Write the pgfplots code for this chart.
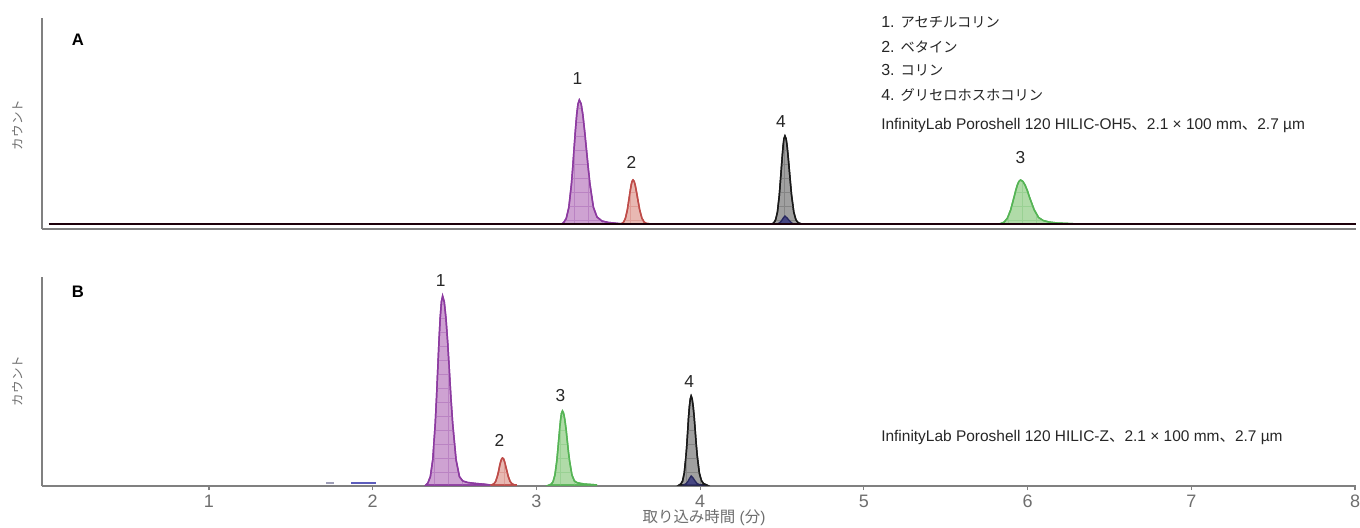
\documentclass[border=0pt]{standalone}
\usepackage{fontspec}
\setmainfont{Liberation Sans}
\newfontfamily\cjk{Noto Sans CJK JP}
\usepackage{pgfplots}
\pgfplotsset{compat=1.18}
\usetikzlibrary{patterns.meta}
\definecolor{purL}{RGB}{140,58,160}
\definecolor{purF}{RGB}{206,162,210}
\definecolor{redL}{RGB}{190,75,72}
\definecolor{redF}{RGB}{232,184,178}
\definecolor{blkL}{RGB}{25,25,25}
\definecolor{blkF}{RGB}{160,160,160}
\definecolor{grnL}{RGB}{85,180,85}
\definecolor{grnF}{RGB}{176,219,168}
\definecolor{navL}{RGB}{40,40,95}
\definecolor{navF}{RGB}{70,70,130}
\definecolor{axgray}{RGB}{128,128,128}
\definecolor{txtgray}{RGB}{110,110,110}
\newcommand\fs[1]{\fontsize{#1}{#1}\selectfont}
\tikzset{plab/.style={font=\fs{13bp}, text=black!85}}
\pgfplotsset{
  peak/.style n args={3}{draw=#1, fill=#2, line width=1.1bp,
    postaction={pattern={Hatch[angle=0,distance=10.5bp,line width=0.35bp]}, pattern color=#3}},
  common/.style={scale only axis, width=985.5bp, xmin=-0.02, xmax=8.006,
    axis x line*=bottom, axis y line*=left, ytick=\empty, clip=false,
    axis line style={draw=axgray, line width=1.1bp}}
}
\begin{document}
\begin{tikzpicture}
\useasboundingbox (0,0) rectangle (1020bp,396bp);
% ---------------- Panel A ----------------
\begin{axis}[common, at={(31.5bp,224.25bp)}, anchor=south west, height=158.25bp,
  ymin=-5, ymax=206, xtick=\empty]
\addplot[peak={purL}{purF}{purL!30!purF}] coordinates {
 (3.155,0) (3.166,1.4) (3.182,5.5) (3.198,16.7) (3.214,40.3) (3.222,56.8) (3.230,75.3)
 (3.238,93.6) (3.246,109.4) (3.254,120.2) (3.262,124) (3.273,120.2) (3.2835,109.4)
 (3.294,93.6) (3.305,75.3) (3.316,56.8) (3.3265,40.3) (3.348,16.7) (3.37,7) (3.40,3)
 (3.44,1.5) (3.50,0.5) (3.53,0)} \closedcycle;
\addplot[peak={redL}{redF}{redL!25!redF}] coordinates {
 (3.51,0) (3.521,0.5) (3.5325,1.9) (3.544,5.9) (3.5555,14.3) (3.561,20.2) (3.567,26.7)
 (3.573,33.2) (3.5785,38.8) (3.584,42.6) (3.59,44) (3.597,42.6) (3.6035,38.8) (3.610,33.2)
 (3.617,26.7) (3.624,20.2) (3.6305,14.3) (3.644,5.9) (3.6575,2) (3.671,0.6) (3.70,0)} \closedcycle;
\addplot[peak={blkL}{blkF}{blkL!20!blkF}] coordinates {
 (4.437,0) (4.449,1) (4.4605,3.9) (4.472,11.9) (4.4835,28.6) (4.489,40.3) (4.495,53.4)
 (4.501,66.4) (4.5065,77.6) (4.512,85.3) (4.518,88) (4.525,85.3) (4.5315,77.6) (4.538,66.4)
 (4.545,53.4) (4.552,40.3) (4.5585,28.6) (4.572,11.9) (4.5855,3.9) (4.599,1.2) (4.62,0)} \closedcycle;
\addplot[draw=navL, fill=navF, line width=1bp] coordinates {
 (4.47,0) (4.485,1.2) (4.496,3) (4.507,5.8) (4.518,8) (4.531,6) (4.544,3.5) (4.557,1.3) (4.57,0)} \closedcycle;
\addplot[peak={grnL}{grnF}{grnL!25!grnF}] coordinates {
 (5.825,0) (5.837,0.5) (5.857,1.9) (5.877,5.9) (5.897,14.3) (5.917,26.7) (5.927,33.2)
 (5.937,38.8) (5.947,42.6) (5.957,44) (5.971,42.6) (5.985,38.8) (5.999,33.2) (6.012,26.7)
 (6.04,14.3) (6.067,6.5) (6.095,3.5) (6.13,2) (6.18,1) (6.25,0.5) (6.31,0)} \closedcycle;
\addplot[draw=black!85!purple, line width=2bp] coordinates {(0.02,0) (8.006,0)};
\node[plab] at (axis cs:3.25,145) {1};
\node[plab] at (axis cs:3.58,62) {2};
\node[plab] at (axis cs:4.494,102) {4};
\node[plab] at (axis cs:5.957,66) {3};
\end{axis}
% ---------------- Panel B ----------------
\begin{axis}[common, at={(31.5bp,31.5bp)}, anchor=south west, height=156.75bp,
  ymin=-1, ymax=208, xtick={1,2,3,4,5,6,7,8},
  tick align=outside, major tick length=3bp,
  x tick style={draw=axgray, line width=0.9bp},
  xticklabel style={font=\fs{13.5bp}, text=txtgray},
  /pgf/number format/assume math mode=true]
\addplot[draw=navL!45!white, line width=1.6bp] coordinates {(1.715,1.7) (1.764,1.7)};
\addplot[draw=navL!60!blue!70!white, line width=1.6bp] coordinates {(1.87,1.7) (2.02,1.7)};
\addplot[peak={purL}{purF}{purL!30!purF}] coordinates {
 (2.325,0) (2.337,2.1) (2.352,8.3) (2.367,25.5) (2.382,61.4) (2.3895,86.6) (2.397,114.7)
 (2.4045,142.7) (2.412,166.7) (2.4195,183.1) (2.427,189) (2.437,183.1) (2.4475,166.7)
 (2.458,142.7) (2.468,114.7) (2.478,86.6) (2.4885,61.4) (2.509,25.5) (2.53,8.3) (2.55,4)
 (2.58,2.5) (2.63,1.5) (2.68,0.8) (2.72,0)} \closedcycle;
\addplot[peak={redL}{redF}{redL!25!redF}] coordinates {
 (2.72,0) (2.73,0.3) (2.7405,1.2) (2.751,3.6) (2.7615,8.8) (2.767,12.4) (2.772,16.4)
 (2.777,20.4) (2.7825,23.8) (2.788,26.2) (2.793,27) (2.799,26.2) (2.8045,23.8) (2.810,20.4)
 (2.816,16.4) (2.822,12.4) (2.8275,8.8) (2.839,3.6) (2.8505,1.2) (2.862,0.3) (2.88,0)} \closedcycle;
\addplot[peak={grnL}{grnF}{grnL!25!grnF}] coordinates {
 (3.078,0) (3.09,0.8) (3.1015,3.3) (3.113,10) (3.1245,24.1) (3.13,33.9) (3.136,44.9)
 (3.142,55.9) (3.1475,65.3) (3.153,71.7) (3.159,74) (3.166,71.7) (3.1735,65.3) (3.181,55.9)
 (3.188,44.9) (3.195,33.9) (3.2025,24.1) (3.217,10) (3.232,4) (3.25,2.2) (3.29,1)
 (3.34,0.4) (3.37,0)} \closedcycle;
\addplot[peak={blkL}{blkF}{blkL!20!blkF}] coordinates {
 (3.872,0) (3.882,1) (3.8925,3.9) (3.903,12) (3.9135,28.9) (3.919,40.8) (3.924,54)
 (3.929,67.2) (3.9345,78.5) (3.940,86.2) (3.945,89) (3.951,86.2) (3.9575,78.5) (3.964,67.2)
 (3.970,54) (3.976,40.8) (3.9825,28.9) (3.995,12) (4.0075,4.5) (4.02,1.5) (4.04,0)} \closedcycle;
\addplot[draw=navL, fill=navF, line width=1bp] coordinates {
 (3.9,0) (3.915,1.5) (3.925,3.5) (3.935,6.5) (3.945,9) (3.957,7) (3.969,4) (3.981,1.5) (3.993,0.5) (4.005,0)} \closedcycle;
\node[plab] at (axis cs:2.415,204) {1};
\node[plab] at (axis cs:2.774,45) {2};
\node[plab] at (axis cs:3.146,89) {3};
\node[plab] at (axis cs:3.933,103) {4};
\end{axis}
% ---------------- Texts ----------------
\node[rotate=90, text=txtgray, font=\cjk\fs{9.4bp}] at (13.5bp,302.25bp) {カウント};
\node[rotate=90, text=txtgray, font=\cjk\fs{9.4bp}] at (13.5bp,110.25bp) {カウント};
\node[text=txtgray, font=\fs{11.6bp}] at (528bp,7.5bp) {{\cjk 取り込み時間} ({\cjk 分})};
\node[font=\bfseries\fs{12.5bp}] at (58.5bp,366bp) {A};
\node[font=\bfseries\fs{12.5bp}] at (58.5bp,177bp) {B};
\begin{scope}[every node/.style={anchor=west, inner sep=0pt, font=\fs{12bp}, text=black!85}]
\node at (660.75bp,379.5bp) {1. {\cjk\fs{10.7bp}アセチルコリン}};
\node at (660.75bp,360.75bp) {2. {\cjk\fs{10.7bp}ベタイン}};
\node at (660.75bp,343.5bp) {3. {\cjk\fs{10.7bp}コリン}};
\node at (660.75bp,324.75bp) {4. {\cjk\fs{10.7bp}グリセロホスホコリン}};
\node[font=\fs{11.6bp}] at (660.75bp,301.5bp) {InfinityLab Poroshell 120 HILIC-OH5{\cjk 、}2.1 × 100 mm{\cjk 、}2.7 µm};
\node[font=\fs{11.6bp}] at (660.75bp,67.5bp) {InfinityLab Poroshell 120 HILIC-Z{\cjk 、}2.1 × 100 mm{\cjk 、}2.7 µm};
\end{scope}
\end{tikzpicture}
\end{document}
